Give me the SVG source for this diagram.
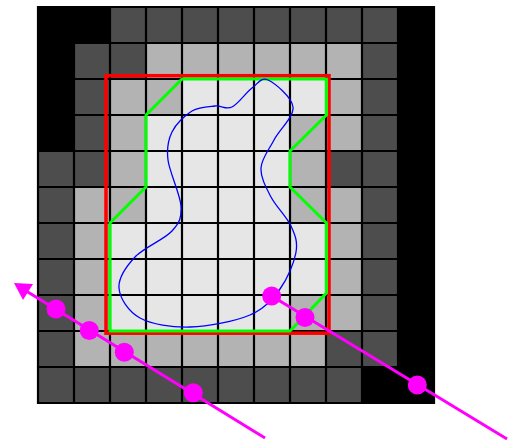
<svg xmlns="http://www.w3.org/2000/svg" width="513" height="442" viewBox="0 0 513 442">
<style>
.k{fill:#000}.d{fill:#4d4d4d}.l{fill:#b3b3b3}.v{fill:#e6e6e6}
.grid line{stroke:#000;stroke-width:2.2}
.mg{stroke:#ff00ff;stroke-width:3;fill:none}
.pt{fill:#ff00ff}
</style>
<rect width="513" height="442" fill="#fff"/>
<g id="cells">
<rect x="37" y="6" width="398" height="398" class="k"/>
<!-- row 0 -->
<rect x="110" y="7" width="288" height="36" class="d"/>
<!-- row 1 -->
<rect x="74" y="43" width="72" height="36" class="d"/>
<rect x="146" y="43" width="216" height="36" class="l"/>
<rect x="362" y="43" width="36" height="36" class="d"/>
<!-- row 2 -->
<rect x="74" y="79" width="36" height="36" class="d"/>
<rect x="110" y="79" width="72" height="36" class="l"/>
<rect x="182" y="79" width="144" height="36" class="v"/>
<rect x="326" y="79" width="36" height="36" class="l"/>
<rect x="362" y="79" width="36" height="36" class="d"/>
<!-- row 3 -->
<rect x="74" y="115" width="36" height="36" class="d"/>
<rect x="110" y="115" width="36" height="36" class="l"/>
<rect x="146" y="115" width="144" height="36" class="v"/>
<rect x="290" y="115" width="72" height="36" class="l"/>
<rect x="362" y="115" width="36" height="36" class="d"/>
<!-- row 4 -->
<rect x="38" y="151" width="72" height="36" class="d"/>
<rect x="110" y="151" width="36" height="36" class="l"/>
<rect x="146" y="151" width="144" height="36" class="v"/>
<rect x="290" y="151" width="36" height="36" class="l"/>
<rect x="326" y="151" width="72" height="36" class="d"/>
<!-- row 5 -->
<rect x="38" y="187" width="36" height="36" class="d"/>
<rect x="74" y="187" width="72" height="36" class="l"/>
<rect x="146" y="187" width="144" height="36" class="v"/>
<rect x="290" y="187" width="72" height="36" class="l"/>
<rect x="362" y="187" width="36" height="36" class="d"/>
<!-- row 6-7 -->
<rect x="38" y="223" width="36" height="72" class="d"/>
<rect x="74" y="223" width="36" height="72" class="l"/>
<rect x="110" y="223" width="216" height="72" class="v"/>
<rect x="326" y="223" width="36" height="72" class="l"/>
<rect x="362" y="223" width="36" height="72" class="d"/>
<!-- row 8 -->
<rect x="38" y="295" width="36" height="36" class="d"/>
<rect x="74" y="295" width="36" height="36" class="l"/>
<rect x="110" y="295" width="180" height="36" class="v"/>
<rect x="290" y="295" width="72" height="36" class="l"/>
<rect x="362" y="295" width="36" height="36" class="d"/>
<!-- row 9 -->
<rect x="38" y="331" width="36" height="36" class="d"/>
<rect x="74" y="331" width="252" height="36" class="l"/>
<rect x="326" y="331" width="72" height="36" class="d"/>
<!-- row 10 -->
<rect x="38" y="367" width="324" height="36" class="d"/>
</g>
<g id="gridlines" class="grid">
<line x1="38" y1="6" x2="38" y2="404"/><line x1="74" y1="6" x2="74" y2="404"/><line x1="110" y1="6" x2="110" y2="404"/><line x1="146" y1="6" x2="146" y2="404"/><line x1="182" y1="6" x2="182" y2="404"/><line x1="218" y1="6" x2="218" y2="404"/><line x1="254" y1="6" x2="254" y2="404"/><line x1="290" y1="6" x2="290" y2="404"/><line x1="326" y1="6" x2="326" y2="404"/><line x1="362" y1="6" x2="362" y2="404"/><line x1="398" y1="6" x2="398" y2="404"/><line x1="434" y1="6" x2="434" y2="404"/>
<line x1="37" y1="7" x2="435" y2="7"/><line x1="37" y1="43" x2="435" y2="43"/><line x1="37" y1="79" x2="435" y2="79"/><line x1="37" y1="115" x2="435" y2="115"/><line x1="37" y1="151" x2="435" y2="151"/><line x1="37" y1="187" x2="435" y2="187"/><line x1="37" y1="223" x2="435" y2="223"/><line x1="37" y1="259" x2="435" y2="259"/><line x1="37" y1="295" x2="435" y2="295"/><line x1="37" y1="331" x2="435" y2="331"/><line x1="37" y1="367" x2="435" y2="367"/><line x1="37" y1="403" x2="435" y2="403"/>
</g>
<g id="bbox">
<rect x="106" y="75.7" width="223" height="257.5" fill="none" stroke="#ff0000" stroke-width="3.5"/>
</g>
<g id="hull">
<polygon points="182,79 326.5,79 326.5,115 290,151 290,187 326.5,223 326.5,293 290,331 110,331 110,223 146,187 146,115" fill="none" stroke="#00ff00" stroke-width="3" stroke-linejoin="round"/>
</g>
<g id="shape">
<path d="M268,80 C274.8,83.2 292,97 293,107 C294,117 279.3,129.8 274,140 C268.7,150.2 261.5,158.5 261,168 C260.5,177.5 266,187.3 271,197 C276,206.7 286.8,216.8 291,226 C295.2,235.2 297.8,241.5 296,252 C294.2,262.5 287.7,278.5 280,289 C272.3,299.5 265,308.7 250,315 C235,321.3 208.3,326.5 190,327 C171.7,327.5 151.8,324.5 140,318 C128.2,311.5 119.8,298.2 119,288 C118.2,277.8 126.2,266.5 135,257 C143.8,247.5 164.3,239.5 172,231 C179.7,222.5 181.7,217.8 181,206 C180.3,194.2 169.5,172.3 168,160 C166.5,147.7 168,140.2 172,132 C176,123.8 184.8,115.3 192,111 C199.2,106.7 208.3,106.7 215,106 C221.7,105.3 225.8,110 232,107 C238.2,104 246,92.5 252,88 C258,83.5 261.2,76.8 268,80 Z" fill="none" stroke="#0000ff" stroke-width="1.3"/>
</g>
<g id="connectors">
<line class="mg" x1="265" y1="438" x2="27" y2="291.5"/>
<polygon class="pt" points="14,283 33,284 23,300"/>
<line class="mg" x1="271.7" y1="296" x2="507" y2="439"/>
</g>
<g id="points">
<circle class="pt" cx="56" cy="309" r="9.5"/>
<circle class="pt" cx="89.3" cy="330.5" r="9.5"/>
<circle class="pt" cx="124.3" cy="352.3" r="9.5"/>
<circle class="pt" cx="193.3" cy="392.7" r="9.5"/>
<circle class="pt" cx="271.7" cy="296" r="9.5"/>
<circle class="pt" cx="305" cy="317.5" r="9.5"/>
<circle class="pt" cx="417.3" cy="385" r="9.5"/>
</g>
</svg>
